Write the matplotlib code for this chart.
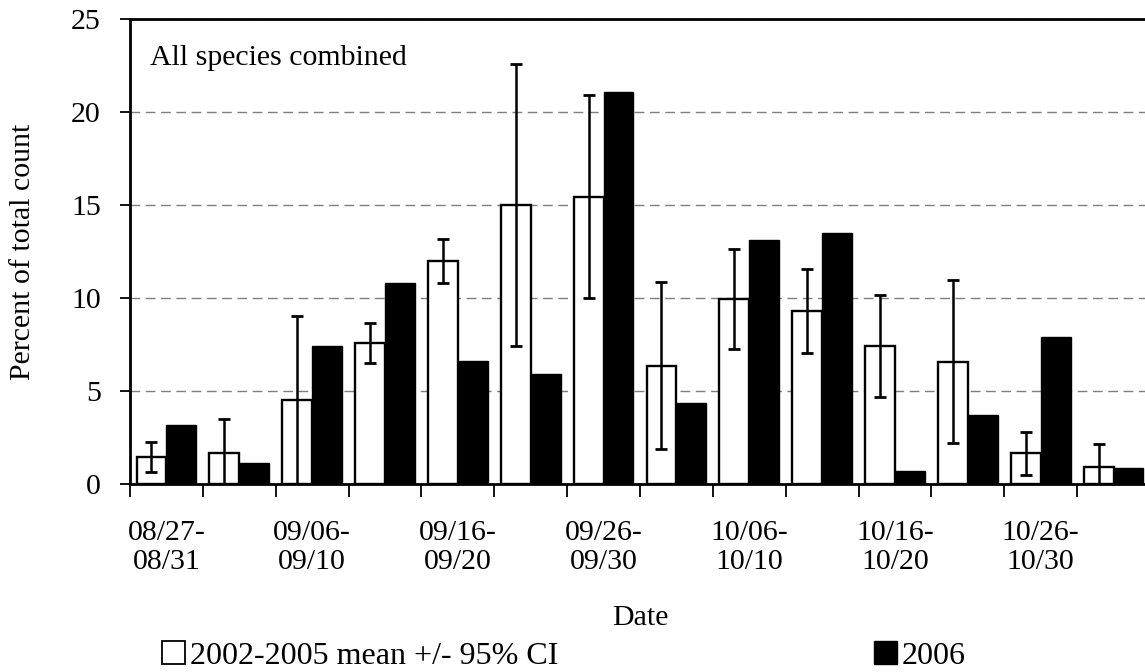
import matplotlib
matplotlib.use("Agg")
import matplotlib.pyplot as plt
from matplotlib.patches import Patch
import numpy as np

plt.rcParams['font.family'] = ['Liberation Serif', 'DejaVu Serif']

categories = ["08/27-\n08/31", "09/01-\n09/05", "09/06-\n09/10", "09/11-\n09/15",
              "09/16-\n09/20", "09/21-\n09/25", "09/26-\n09/30", "10/01-\n10/05",
              "10/06-\n10/10", "10/11-\n10/15", "10/16-\n10/20", "10/21-\n10/25",
              "10/26-\n10/30", "10/31-\n11/04"]
mean_2002_2005 = [1.47, 1.65, 4.52, 7.56, 12.01, 15.0, 15.45, 6.36, 9.95, 9.32, 7.44, 6.58, 1.65, 0.93]
ci95 = [0.80, 1.83, 4.53, 1.08, 1.18, 7.58, 5.46, 4.50, 2.70, 2.26, 2.74, 4.37, 1.15, 1.22]
values_2006 = [3.17, 1.11, 7.42, 10.79, 6.63, 5.90, 21.09, 4.37, 13.12, 13.48, 0.72, 3.71, 7.89, 0.84]

FS = 21.5
LFS = 23
fig = plt.figure(figsize=(11.45, 6.72), dpi=100)
ax = fig.add_axes([130/1145, 1-484/672, 1020/1145, 465/672])

x = np.arange(len(categories))
w = 0.41
ax.bar(x, mean_2002_2005, width=-w, align='edge', color='white', edgecolor='black',
       linewidth=1.7, zorder=3)
ax.errorbar(x - w/2, mean_2002_2005, yerr=ci95, fmt='none', ecolor='black',
            elinewidth=1.8, capsize=4.5, capthick=2.0, zorder=4)
ax.bar(x, values_2006, width=w, align='edge', color='black', edgecolor='black',
       linewidth=1.0, zorder=3)

ax.set_xlim(-0.5, len(categories) - 0.5)
ax.set_ylim(0, 25)
ax.set_yticks([0, 5, 10, 15, 20, 25])
ax.yaxis.grid(True, linestyle=(0, (7, 4)), color='#7f7f7f', linewidth=1.0, zorder=0)
ax.set_axisbelow(True)

ax.set_xticks(np.arange(len(categories) + 1) - 0.5)
ax.set_xticklabels([])
ax.set_xticks(x, minor=True)
ax.set_xticklabels([c if i % 2 == 0 else "" for i, c in enumerate(categories)],
                   minor=True, fontsize=FS, linespacing=1.12)
ax.tick_params(axis='x', which='minor', length=0, pad=26)
ax.tick_params(axis='x', which='major', length=9, width=1.3, direction='out')
ax.tick_params(axis='y', length=7, width=1.3, direction='out', pad=14, labelsize=FS)

for s in ['left', 'top', 'bottom']:
    ax.spines[s].set_linewidth(2.0)
ax.spines['right'].set_visible(False)

ax.text((150-130)/1020, (484-65)/465, "All species combined", transform=ax.transAxes,
        fontsize=FS, va='baseline')

ax.set_ylabel("Percent of total count", fontsize=FS, labelpad=25)
ax.set_xlabel("Date", fontsize=FS, labelpad=22)

handles = [Patch(facecolor='white', edgecolor='black', linewidth=1.3),
           Patch(facecolor='black', edgecolor='black')]
fig.legend(handles, ["2002-2005 mean +/- 95% CI", "2006"], loc='center',
           bbox_to_anchor=(564/1145, 1-656/672), ncol=2, frameon=False,
           fontsize=LFS, handlelength=0.72, handleheight=0.69, handletextpad=0.16,
           columnspacing=9.85, borderpad=0, borderaxespad=0)

fig.savefig("out.png", dpi=100)
